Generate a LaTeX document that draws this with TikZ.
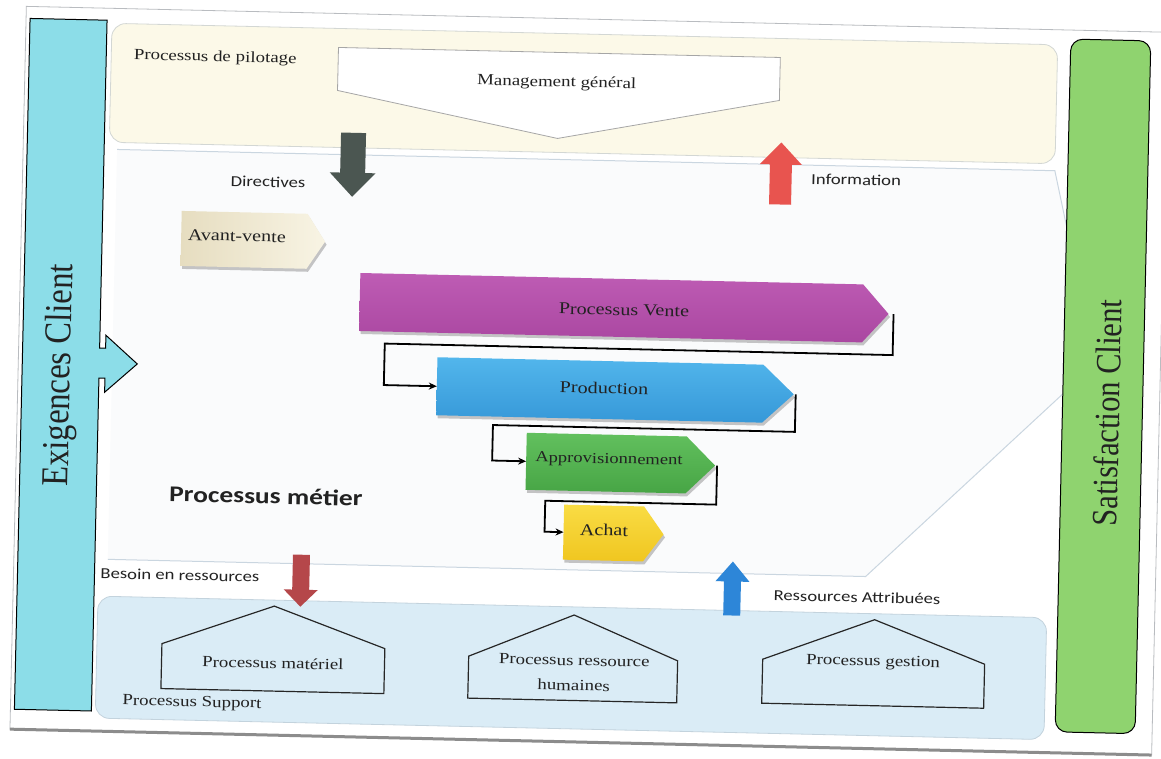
\documentclass[tikz,border=0pt]{standalone}
\usepackage{fontspec}
\setmainfont{Liberation Serif}
\newfontfamily\serifwide[FakeStretch=1.22]{Liberation Serif}
\newfontfamily\sanswide[FakeStretch=1.22]{Carlito}
\newfontfamily\serifside[FakeStretch=0.86]{Liberation Serif}
\newcommand\fsz[1]{\fontsize{#1}{#1}\selectfont}
\usetikzlibrary{arrows.meta,shadows}

\definecolor{frameline}{HTML}{B9BCC0}
\definecolor{pilotfill}{HTML}{FCF9E8}
\definecolor{bandedge}{HTML}{D3D7D4}
\definecolor{metierfill}{HTML}{FAFBFC}
\definecolor{metieredge}{HTML}{CAD6E0}
\definecolor{supportfill}{HTML}{DAECF6}
\definecolor{supportedge}{HTML}{C3D3DD}
\definecolor{exigfill}{HTML}{8CDDE8}
\definecolor{satisfill}{HTML}{8FD36F}
\definecolor{venteA}{HTML}{BE5CB4}
\definecolor{venteB}{HTML}{AA47A1}
\definecolor{prodA}{HTML}{52B6EC}
\definecolor{prodB}{HTML}{3698D8}
\definecolor{approA}{HTML}{62C05E}
\definecolor{approB}{HTML}{47A545}
\definecolor{achatA}{HTML}{F9DC44}
\definecolor{achatB}{HTML}{F0C620}
\definecolor{avantA}{HTML}{E6DDC0}
\definecolor{avantB}{HTML}{F8F4E4}
\definecolor{dirfill}{HTML}{4B5651}
\definecolor{infofill}{HTML}{E8544F}
\definecolor{besoinfill}{HTML}{B5474A}
\definecolor{ressfill}{HTML}{2D86D8}
\definecolor{ink}{HTML}{222222}

\begin{document}
\begin{tikzpicture}[x=1pt, y=-1pt,
  bodybox/.style={shape=rectangle, inner sep=0pt, outer sep=0pt},
  chev/.style={drop shadow={shadow xshift=1.5pt, shadow yshift=-3pt, opacity=0.22, fill=black}},
  flow/.style={draw=black, line width=1.8pt, -{Stealth[length=8pt,width=7pt]}},
  house/.style={draw=black!85, line width=1.2pt},
  lbl/.style={inner sep=0pt, text=ink},
  serif/.style={lbl, font=\serifwide\fsz{15.5}},
  chevtxt/.style={lbl, font=\serifwide\fsz{16.5}},
  sans/.style={lbl, font=\sanswide\fsz{15.3}}]

\useasboundingbox (0,0) rectangle (1161,758);
\fill[white] (0,0) rectangle (1161,758);

\begin{scope}[rotate around={-1.3:(580,380)}, transform shape]

% sheet outline
\draw[frameline, line width=0.8pt] (18,19) rectangle (1160,742);
\draw[black!45, line width=3pt] (18,742) -- (1160,742);

% business process area: faint fill, outlined on top, bottom and the pointed end
\fill[metierfill] (112,160) -- (1050,160) -- (1095,352) -- (870,570) -- (112,570) -- cycle;
\draw[metieredge, line width=1pt] (112,160) -- (1050,160) -- (1095,352) -- (870,570) -- (112,570);

% steering band
\path[fill=pilotfill, draw=bandedge, line width=0.8pt, rounded corners=14pt]
  (104,34) rectangle (1050,153);

% support band
\path[fill=supportfill, draw=supportedge, line width=0.8pt, rounded corners=14pt]
  (103,607) rectangle (1052,729);

% general management
\node[bodybox, minimum width=442pt, minimum height=43pt] (mgmt) at (552,74.5) {};
\path[fill=white, draw=black!35, line width=0.8pt]
  (mgmt.north west) -- (mgmt.north east) -- (mgmt.south east)
  -- ([yshift=-43pt]mgmt.south) -- (mgmt.south west) -- cycle;

% support processes
\node[bodybox, minimum width=223pt, minimum height=45pt] (h1) at (279.5,675.5) {};
\draw[house] (h1.south west) -- (h1.north west) -- ([yshift=40pt]h1.north)
  -- (h1.north east) -- (h1.south east) -- cycle;
\node[bodybox, minimum width=209pt, minimum height=42pt] (h2) at (579.5,679.6) {};
\draw[house] (h2.south west) -- (h2.north west) -- ([yshift=43.5pt]h2.north)
  -- (h2.north east) -- (h2.south east) -- cycle;
\node[bodybox, minimum width=222pt, minimum height=44pt] (h3) at (880,677) {};
\draw[house] (h3.south west) -- (h3.north west) -- ([yshift=42pt]h3.north)
  -- (h3.north east) -- (h3.south east) -- cycle;

% customer requirements bar with its arrow
\path[fill=exigfill, draw=black, line width=1pt]
  (22,31) -- (99,31) -- (99,359) -- (105,359) -- (105,346) -- (137,374)
  -- (105,403) -- (105,389) -- (99,389) -- (99,722) -- (22,722) -- cycle;
\node[lbl, rotate=90, font=\serifside\fsz{38}] (exigtxt) at (61,387) {Exigences Client};

% customer satisfaction bar
\node[draw=black, line width=1pt, fill=satisfill, rounded corners=12pt,
  minimum width=80pt, minimum height=693pt, inner sep=0pt] (satis) at (1103,374.5) {};
\node[lbl, rotate=90, font=\serifside\fsz{35.5}] (satistxt) at (1107.7,401) {Satisfaction Client};

% block arrows
\fill[dirfill] (335.5,138) -- (360.5,138) -- (360.5,178) -- (371,178) -- (348,202)
  -- (325,178) -- (335.5,178) -- cycle;
\fill[infofill] (776,138) -- (797,160) -- (787,160) -- (787,200) -- (765,200)
  -- (765,160) -- (755,160) -- cycle;
\fill[besoinfill] (297,561) -- (314,561) -- (314,596) -- (322.5,596) -- (305.5,613)
  -- (288.5,596) -- (297,596) -- cycle;
\fill[ressfill] (737,558) -- (754,578) -- (745.5,578) -- (745.5,612) -- (728.5,612)
  -- (728.5,578) -- (720,578) -- cycle;

% pre-sale
\node[bodybox, minimum width=126pt, minimum height=55pt] (avant) at (241,247.5) {};
\path[chev, left color=avantA, right color=avantB]
  (avant.north west) -- (avant.north east) -- ([xshift=18pt]avant.east)
  -- (avant.south east) -- (avant.south west) -- cycle;

% process chain
\node[bodybox, minimum width=503pt, minimum height=58pt] (vente) at (609.5,307) {};
\path[chev, top color=venteA, bottom color=venteB]
  (vente.north west) -- (vente.north east) -- ([xshift=26pt]vente.east)
  -- (vente.south east) -- (vente.south west) -- cycle;
\node[bodybox, minimum width=326pt, minimum height=58pt] (prod) at (600,389.5) {};
\path[chev, top color=prodA, bottom color=prodB]
  (prod.north west) -- (prod.north east) -- ([xshift=31pt]prod.east)
  -- (prod.south east) -- (prod.south west) -- cycle;
\node[bodybox, minimum width=160pt, minimum height=57pt] (appro) at (608,462.5) {};
\path[chev, top color=approA, bottom color=approB]
  (appro.north west) -- (appro.north east) -- ([xshift=29pt]appro.east)
  -- (appro.south east) -- (appro.south west) -- cycle;
\node[bodybox, minimum width=80pt, minimum height=55pt] (achat) at (607,532.5) {};
\path[chev, top color=achatA, bottom color=achatB]
  (achat.north west) -- (achat.north east) -- ([xshift=20pt]achat.east)
  -- (achat.south east) -- (achat.south west) -- cycle;

\draw[flow] ([xshift=31pt]vente.east) -- ++(0,41) -- ++(-508,0) -- ++(0,41.5) -- (prod.west);
\draw[flow] ([xshift=33pt]prod.east) -- ++(0,37.5) -- ++(-302,0) -- ++(0,35.5) -- (appro.west);
\draw[flow] ([xshift=31pt]appro.east) -- ++(0,39) -- ++(-171,0) -- ++(0,31) -- (achat.west);

% labels
\node[serif] (pilot) at (208,66) {Processus de pilotage};
\node[serif] (mgmttxt) at (550,83.5) {Management général};
\node[sans] (dir) at (263.6,189) {Directives};
\node[sans] (info) at (851.5,173.7) {Information};
\node[chevtxt] (avanttxt) at (233.7,243.8) {Avant-vente};
\node[chevtxt] (ventetxt) at (622.4,309) {Processus Vente};
\node[chevtxt] (prodtxt) at (604.2,387.5) {Production};
\node[lbl, font=\serifwide\fsz{15.2}] (approtxt) at (610.8,459.3) {Approvisionnement};
\node[chevtxt] (achattxt) at (607.4,529.5) {Achat};
\node[lbl, font=\sanswide\bfseries\fsz{22.5}] (metiertxt) at (268.6,503) {Processus métier};
\node[sans] (besoin) at (184.4,584.1) {Besoin en ressources};
\node[sans] (ress) at (861.9,590.7) {Ressources Attribuées};
\node[serif] (h1txt) at (279.4,670) {Processus matériel};
\node[lbl, align=center, font=\serifwide\fontsize{15.5}{25}\selectfont] (h2txt) at (580.6,673)
  {Processus ressource\\humaines};
\node[serif] (h3txt) at (879.4,655.6) {Processus gestion};
\node[serif] (support) at (199.4,711.8) {Processus Support};

\end{scope}
\end{tikzpicture}
\end{document}
